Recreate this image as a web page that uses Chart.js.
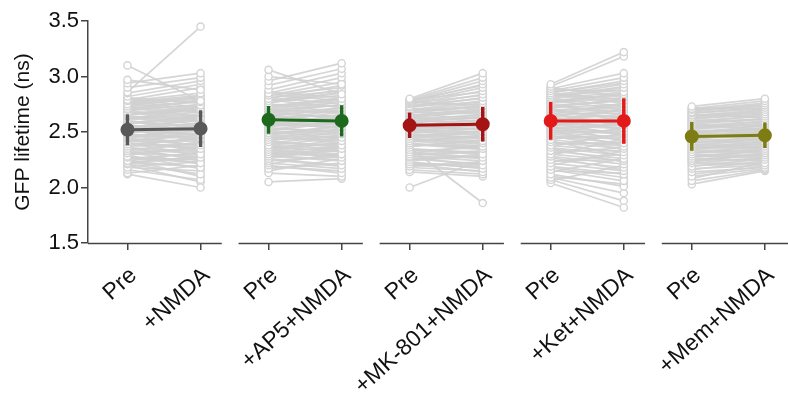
<!DOCTYPE html>
<html>
<head>
<meta charset="utf-8">
<script src="https://cdn.jsdelivr.net/npm/chart.js@4/dist/chart.umd.min.js"></script>
<style>
  html, body { margin: 0; padding: 0; background: #fff; }
  #wrap { width: 788px; height: 394px; }
</style>
</head>
<body>
<div id="wrap"><canvas id="c" width="788" height="394"></canvas></div>
<script>
// Conditions, two time points each
const groups = ['NMDA', 'AP5', 'MK-801', 'Ket', 'Mem'];
const tickLabels = ['Pre', '+NMDA', 'Pre', '+AP5+NMDA', 'Pre', '+MK-801+NMDA', 'Pre', '+Ket+NMDA', 'Pre', '+Mem+NMDA'];
const yTicks = [1.5, 2.0, 2.5, 3.0, 3.5];

// Per-cell GFP lifetime (ns), before and after treatment
const nmdaPre  = [3.10, 2.97, 2.94, 2.90, 2.86, 2.85, 2.82, 2.79, 2.78, 2.75, 2.73, 2.71, 2.70, 2.67, 2.65, 2.64, 2.61, 2.59, 2.57, 2.56, 2.53, 2.51, 2.50, 2.47, 2.45, 2.44, 2.41, 2.39, 2.37, 2.35, 2.33, 2.31, 2.28, 2.27, 2.24, 2.22, 2.21, 2.18, 2.16, 2.13, 2.12,
                  2.80, 2.77, 2.76, 2.74, 2.72, 2.69, 2.68, 2.66, 2.63, 2.62, 2.60, 2.58, 2.55, 2.54, 2.52, 2.49, 2.48, 2.46, 2.43, 2.42, 2.40, 2.38, 2.36, 2.34, 2.32, 2.30, 2.29, 2.26, 2.25, 2.23, 2.20, 2.19,
                  2.81, 2.78, 2.76, 2.73, 2.71, 2.69, 2.66, 2.64, 2.62, 2.60, 2.58, 2.56, 2.54, 2.52, 2.50, 2.48, 2.46, 2.44, 2.42, 2.40, 2.38, 2.36, 2.33, 2.31, 2.29, 2.26, 2.24, 2.22];
const nmdaPost = [2.78, 2.88, 3.03, 2.99, 3.45, 2.96, 2.93, 2.90, 2.85, 2.81, 2.77, 2.74, 2.79, 2.70, 2.72, 2.62, 2.66, 2.55, 2.63, 2.52, 2.58, 2.47, 2.54, 2.44, 2.49, 2.38, 2.43, 2.35, 2.40, 2.30, 2.27, 2.34, 2.22, 2.25, 2.18, 2.28, 2.12, 2.15, 2.07, 2.20, 2.00,
                  2.72, 2.83, 2.68, 2.80, 2.64, 2.75, 2.60, 2.69, 2.57, 2.71, 2.50, 2.65, 2.46, 2.61, 2.42, 2.56, 2.37, 2.51, 2.33, 2.47, 2.29, 2.44, 2.24, 2.39, 2.21, 2.36, 2.17, 2.31, 2.10, 2.26, 2.05, 2.23,
                  2.76, 2.70, 2.82, 2.67, 2.78, 2.63, 2.73, 2.59, 2.68, 2.55, 2.64, 2.51, 2.62, 2.48, 2.57, 2.45, 2.53, 2.41, 2.49, 2.36, 2.45, 2.32, 2.41, 2.28, 2.37, 2.23, 2.32, 2.19];

const ap5Pre   = [3.06, 3.00, 2.96, 2.92, 2.88, 2.85, 2.83, 2.80, 2.78, 2.76, 2.73, 2.71, 2.70, 2.68, 2.66, 2.63, 2.62, 2.60, 2.58, 2.57, 2.55, 2.53, 2.51, 2.49, 2.47, 2.45, 2.43, 2.41, 2.38, 2.36, 2.34, 2.32, 2.30, 2.28, 2.26, 2.24, 2.22, 2.20, 2.17, 2.13, 2.05,
                  2.84, 2.81, 2.79, 2.77, 2.75, 2.72, 2.69, 2.67, 2.65, 2.61, 2.59, 2.56, 2.54, 2.52, 2.50, 2.48, 2.46, 2.44, 2.42, 2.40, 2.37, 2.35, 2.33, 2.31, 2.29, 2.27, 2.25, 2.21, 2.19, 2.15,
                  2.86, 2.83, 2.80, 2.78, 2.75, 2.73, 2.70, 2.68, 2.66, 2.64, 2.61, 2.59, 2.57, 2.55, 2.53, 2.51, 2.49, 2.47, 2.45, 2.42, 2.40, 2.38, 2.35, 2.33, 2.30, 2.28];
const ap5Post  = [2.84, 2.93, 3.12, 3.07, 3.03, 2.99, 2.95, 2.92, 2.88, 2.86, 2.80, 2.77, 2.74, 2.71, 2.69, 2.65, 2.60, 2.63, 2.57, 2.54, 2.58, 2.51, 2.48, 2.52, 2.45, 2.42, 2.46, 2.38, 2.35, 2.40, 2.30, 2.27, 2.33, 2.24, 2.20, 2.28, 2.17, 2.13, 2.22, 2.10, 2.08,
                  2.78, 2.87, 2.72, 2.83, 2.68, 2.79, 2.62, 2.75, 2.59, 2.70, 2.53, 2.66, 2.49, 2.61, 2.44, 2.56, 2.40, 2.53, 2.36, 2.47, 2.32, 2.43, 2.29, 2.37, 2.25, 2.34, 2.19, 2.31, 2.15, 2.26,
                  2.81, 2.90, 2.76, 2.85, 2.73, 2.81, 2.67, 2.77, 2.64, 2.72, 2.58, 2.68, 2.55, 2.63, 2.50, 2.59, 2.47, 2.55, 2.43, 2.50, 2.38, 2.45, 2.34, 2.41, 2.29, 2.36];

const mkPre    = [2.80, 2.79, 2.78, 2.77, 2.76, 2.75, 2.73, 2.72, 2.70, 2.69, 2.67, 2.65, 2.64, 2.62, 2.60, 2.59, 2.57, 2.56, 2.54, 2.52, 2.50, 2.48, 2.46, 2.44, 2.42, 2.40, 2.38, 2.36, 2.34, 2.32, 2.30, 2.28, 2.27, 2.25, 2.23, 2.21, 2.19, 2.16, 2.14, 2.00,
                  2.79, 2.77, 2.74, 2.71, 2.68, 2.66, 2.63, 2.61, 2.58, 2.55, 2.53, 2.51, 2.49, 2.47, 2.45, 2.43, 2.41, 2.39, 2.37, 2.35, 2.33, 2.31, 2.29, 2.26, 2.24, 2.22, 2.20, 2.18,
                  2.78, 2.76, 2.73, 2.70, 2.68, 2.65, 2.63, 2.60, 2.58, 2.56, 2.53, 2.51, 2.48, 2.46, 2.44, 2.42, 2.39, 2.37, 2.34, 2.31, 2.28, 2.25, 2.22];
const mkPost   = [3.03, 2.99, 2.96, 2.93, 2.90, 2.87, 2.84, 2.81, 2.78, 2.76, 2.73, 2.70, 2.68, 2.65, 2.63, 2.60, 2.58, 2.55, 2.53, 2.50, 2.47, 2.45, 2.42, 2.40, 2.37, 2.35, 2.38, 1.86, 2.30, 2.27, 2.33, 2.24, 2.20, 2.28, 2.17, 2.14, 2.22, 2.12, 2.10, 2.25,
                  2.86, 2.74, 2.80, 2.67, 2.74, 2.62, 2.69, 2.57, 2.64, 2.52, 2.59, 2.48, 2.54, 2.44, 2.50, 2.39, 2.46, 2.34, 2.42, 2.31, 2.36, 2.26, 2.32, 2.21, 2.29, 2.18, 2.23, 2.15,
                  2.92, 2.83, 2.77, 2.72, 2.66, 2.71, 2.60, 2.66, 2.55, 2.61, 2.50, 2.56, 2.45, 2.51, 2.41, 2.47, 2.36, 2.43, 2.32, 2.38, 2.27, 2.30, 2.19];

const ketPre   = [2.93, 2.91, 2.89, 2.87, 2.85, 2.83, 2.81, 2.80, 2.78, 2.76, 2.74, 2.72, 2.70, 2.68, 2.66, 2.64, 2.62, 2.60, 2.58, 2.56, 2.54, 2.52, 2.50, 2.48, 2.46, 2.43, 2.41, 2.38, 2.36, 2.33, 2.30, 2.28, 2.25, 2.22, 2.19, 2.16, 2.12, 2.09, 2.07, 2.04,
                  2.90, 2.86, 2.84, 2.82, 2.79, 2.77, 2.75, 2.73, 2.71, 2.69, 2.67, 2.65, 2.63, 2.61, 2.59, 2.57, 2.55, 2.53, 2.51, 2.49, 2.47, 2.44, 2.42, 2.39, 2.35, 2.31, 2.27, 2.23, 2.18, 2.14, 2.10, 2.06,
                  2.88, 2.85, 2.82, 2.80, 2.77, 2.74, 2.72, 2.69, 2.66, 2.63, 2.60, 2.58, 2.55, 2.52, 2.49, 2.46, 2.43, 2.40, 2.37, 2.34, 2.29, 2.24, 2.20, 2.15];
const ketPost  = [3.22, 3.18, 3.03, 2.99, 2.96, 2.93, 2.90, 2.86, 2.84, 2.81, 2.78, 2.75, 2.72, 2.70, 2.67, 2.64, 2.61, 2.58, 2.56, 2.53, 2.50, 2.48, 2.45, 2.43, 2.40, 2.37, 2.35, 2.32, 2.29, 2.26, 2.24, 2.21, 2.18, 2.15, 2.12, 2.06, 2.01, 1.95, 1.88, 1.82,
                  2.82, 2.94, 2.76, 2.88, 2.70, 2.83, 2.65, 2.79, 2.60, 2.74, 2.55, 2.69, 2.52, 2.66, 2.47, 2.62, 2.42, 2.57, 2.38, 2.52, 2.34, 2.47, 2.28, 2.41, 2.23, 2.36, 2.16, 2.30, 2.09, 2.26, 2.03, 2.20,
                  2.87, 2.79, 2.91, 2.73, 2.85, 2.68, 2.80, 2.63, 2.76, 2.58, 2.71, 2.54, 2.64, 2.49, 2.59, 2.44, 2.54, 2.39, 2.49, 2.33, 2.44, 2.25, 2.33, 2.13];

const memPre   = [2.73, 2.71, 2.70, 2.68, 2.67, 2.65, 2.63, 2.62, 2.60, 2.58, 2.56, 2.55, 2.53, 2.51, 2.50, 2.48, 2.46, 2.45, 2.43, 2.41, 2.39, 2.38, 2.36, 2.34, 2.32, 2.30, 2.28, 2.26, 2.24, 2.22, 2.19, 2.17, 2.14, 2.10, 2.06, 2.03,
                  2.72, 2.69, 2.66, 2.64, 2.61, 2.59, 2.57, 2.54, 2.52, 2.49, 2.47, 2.44, 2.42, 2.40, 2.37, 2.35, 2.33, 2.31, 2.29, 2.27, 2.25, 2.23, 2.20, 2.16, 2.12, 2.08,
                  2.70, 2.67, 2.65, 2.62, 2.60, 2.57, 2.55, 2.53, 2.50, 2.48, 2.45, 2.43, 2.41, 2.38, 2.36, 2.34, 2.31, 2.28, 2.25, 2.22];
const memPost  = [2.80, 2.78, 2.76, 2.74, 2.72, 2.70, 2.68, 2.66, 2.64, 2.62, 2.59, 2.57, 2.55, 2.53, 2.51, 2.49, 2.47, 2.45, 2.43, 2.41, 2.39, 2.37, 2.35, 2.33, 2.31, 2.29, 2.27, 2.25, 2.30, 2.22, 2.26, 2.20, 2.18, 2.17, 2.16, 2.15,
                  2.70, 2.75, 2.63, 2.69, 2.58, 2.65, 2.52, 2.60, 2.48, 2.56, 2.44, 2.51, 2.40, 2.46, 2.36, 2.42, 2.32, 2.38, 2.28, 2.34, 2.24, 2.31, 2.21, 2.24, 2.19, 2.23,
                  2.73, 2.71, 2.67, 2.66, 2.61, 2.62, 2.56, 2.58, 2.52, 2.54, 2.47, 2.50, 2.43, 2.44, 2.39, 2.40, 2.35, 2.33, 2.30, 2.27];

// Group mean and SD, [pre, post]
const meanNMDA = [2.52, 2.53];  const sdNMDA = [0.14, 0.165];
const meanAP5  = [2.61, 2.60];  const sdAP5  = [0.125, 0.14];
const meanMK   = [2.56, 2.57];  const sdMK   = [0.115, 0.155];
const meanKet  = [2.60, 2.60];  const sdKet  = [0.17, 0.205];
const meanMem  = [2.46, 2.47];  const sdMem  = [0.13, 0.115];

const cells = [[nmdaPre, nmdaPost], [ap5Pre, ap5Post], [mkPre, mkPost], [ketPre, ketPost], [memPre, memPost]];
const means = [meanNMDA, meanAP5, meanMK, meanKet, meanMem];
const sds   = [sdNMDA, sdAP5, sdMK, sdKet, sdMem];
const groupColors = ['#595959', '#1d6a1d', '#a41414', '#e21a1a', '#7d7d14'];

// x layout: each group has pre at 0 and post at 1, groups spaced by GROUP_STEP
const GROUP_STEP = 1.93;
const xOf = (g, t) => g * GROUP_STEP + t;
const tickValues = [];
groups.forEach((_, g) => { tickValues.push(xOf(g, 0), xOf(g, 1)); });

const datasets = [];
cells.forEach(([pre, post], g) => {
  pre.forEach((v, i) => {
    datasets.push({
      type: 'line',
      data: [{ x: xOf(g, 0), y: v }, { x: xOf(g, 1), y: post[i] }],
      borderColor: 'rgba(208,208,208,0.9)',
      borderWidth: 1.7,
      pointRadius: 3.6,
      pointBorderWidth: 1.4,
      pointBorderColor: '#d4d4d4',
      pointBackgroundColor: '#ffffff',
      order: 10
    });
  });
});
means.forEach((m, g) => {
  const col = groupColors[g];
  [0, 1].forEach(t => {
    datasets.push({
      type: 'line',
      data: [{ x: xOf(g, t), y: m[t] - sds[g][t] }, { x: xOf(g, t), y: m[t] + sds[g][t] }],
      borderColor: col,
      borderWidth: 3.5,
      pointRadius: 0,
      order: 1
    });
  });
  datasets.push({
    type: 'line',
    data: [{ x: xOf(g, 0), y: m[0] }, { x: xOf(g, 1), y: m[1] }],
    borderColor: col,
    borderWidth: 3,
    pointRadius: 5.5,
    pointBackgroundColor: col,
    pointBorderColor: col,
    order: 0
  });
});

// Broken x axis: one baseline segment per group
const segmentAxis = {
  id: 'segmentAxis',
  afterDraw(chart) {
    const xs = chart.scales.x, ca = chart.chartArea, ctx = chart.ctx;
    ctx.save();
    ctx.strokeStyle = '#444';
    ctx.lineWidth = 1.5;
    groups.forEach((_, g) => {
      const a = g === 0 ? ca.left : xs.getPixelForValue(xOf(g, -0.41));
      const b = g === groups.length - 1 ? chart.width : xs.getPixelForValue(xOf(g, 1.29));
      ctx.beginPath();
      ctx.moveTo(a, ca.bottom + 0.5);
      ctx.lineTo(b, ca.bottom + 0.5);
      ctx.stroke();
    });
    ctx.restore();
  }
};

const font = 'Liberation Sans, Arial, sans-serif';
new Chart(document.getElementById('c'), {
  type: 'line',
  data: { datasets },
  options: {
    responsive: false,
    animation: false,
    layout: { padding: { top: 21, right: 0, left: 0, bottom: 0 } },
    plugins: { legend: { display: false }, tooltip: { enabled: false } },
    scales: {
      x: {
        type: 'linear',
        min: -0.54,
        max: xOf(4, 1) + 0.2,
        afterBuildTicks(scale) { scale.ticks = tickValues.map(v => ({ value: v })); },
        afterFit(scale) { scale.height = 151; scale.paddingRight = 0; scale.paddingLeft = 0; },
        border: { display: false },
        grid: { display: true, drawOnChartArea: false, drawTicks: true, tickLength: 7, color: '#444', lineWidth: 1.5 },
        ticks: {
          autoSkip: false,
          minRotation: 42,
          maxRotation: 42,
          padding: 12,
          labelOffset: 6,
          color: '#111',
          font: { family: font, size: 23 },
          callback: (v, i) => tickLabels[i]
        }
      },
      y: {
        min: 1.5,
        max: 3.5,
        afterBuildTicks(scale) { scale.ticks = yTicks.map(v => ({ value: v })); },
        afterFit(scale) { scale.width = 88; },
        border: { display: true, color: '#444', width: 1.5 },
        grid: { display: true, drawOnChartArea: false, drawTicks: true, tickLength: 7, color: '#444', lineWidth: 1.5 },
        ticks: {
          padding: 2,
          color: '#111',
          font: { family: font, size: 22 },
          callback: v => v.toFixed(1)
        },
        title: {
          display: true,
          text: 'GFP lifetime (ns)',
          color: '#111',
          font: { family: font, size: 21 },
          padding: { top: 11, bottom: 0 }
        }
      }
    }
  },
  plugins: [segmentAxis]
});
</script>
</body>
</html>
